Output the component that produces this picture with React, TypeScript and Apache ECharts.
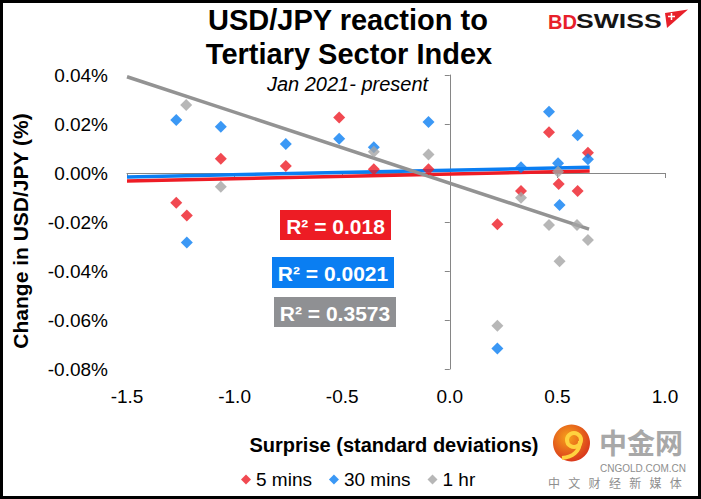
import React, { useEffect, useRef } from 'react';
import * as echarts from 'echarts';

const seriesNames = ['5 mins', '30 mins', '1 hr'];
const seriesColors = ['#EE1C25', '#0A7EF2', '#A5A5A5'];
const trendColors = ['#EE1C25', '#0A7EF2', '#939393'];

// [surprise (sd), change in USD/JPY (%)]
const fiveMins: number[][] = [
  [-1.271, -0.0121], [-1.222, -0.0173], [-1.064, 0.0058], [-0.762, 0.0029], [-0.514, 0.0227],
  [-0.353, 0.0015], [-0.099, 0.0015], [0.221, -0.0209], [0.331, -0.0073], [0.461, 0.0166],
  [0.506, -0.0045], [0.594, -0.0073], [0.642, 0.0083],
];
const thirtyMins: number[][] = [
  [-1.271, 0.0216], [-1.222, -0.0284], [-1.064, 0.0189], [-0.762, 0.0118], [-0.514, 0.014],
  [-0.353, 0.0105], [-0.099, 0.0208], [0.221, -0.0716], [0.331, 0.0023], [0.461, 0.025],
  [0.503, 0.004], [0.51, -0.0131], [0.594, 0.0154], [0.642, 0.0056],
];
const oneHr: number[][] = [
  [-1.225, 0.0278], [-1.064, -0.0056], [-0.353, 0.0087], [-0.099, 0.0076], [0.221, -0.0623],
  [0.331, -0.0101], [0.461, -0.0212], [0.503, 0.0005], [0.51, -0.036], [0.591, -0.0212],
  [0.642, -0.0273],
];

// Excel linear trendline end points
const trend5: number[][] = [[-1.5, -0.0033], [0.65, 0.0008]];
const trend30: number[][] = [[-1.5, -0.0016], [0.65, 0.0023]];
const trend1h: number[][] = [[-1.5, 0.0393], [0.647, -0.0229]];

const rSquared = ['R² = 0.018', 'R² = 0.0021', 'R² = 0.3573'];

const xMin = -1.5, xMax = 1.0, xStep = 0.5;
const yMin = -0.08, yMax = 0.04, yStep = 0.02;

const titleLines = ['USD/JPY reaction to', 'Tertiary Sector Index'];
const subtitle = 'Jan 2021- present';
const xTitle = 'Surprise (standard deviations)';
const yTitle = 'Change in USD/JPY (%)';
const watermarkChars = ['中', '文', '财', '经', '新', '媒', '体'];

const FONT = 'Arial, "Liberation Sans", Helvetica, sans-serif';

export default function App() {
  const ref = useRef<HTMLDivElement>(null);
  useEffect(() => {
    if (!ref.current) return;
    const chart = echarts.init(ref.current, null, { renderer: 'svg' });
    const axisGray = '#868686';
    const series: any[] = [];
    [trend5, trend30, trend1h].forEach((d, i) => {
      series.push({
        name: 'trend' + i, type: 'line', data: d, symbol: 'none', silent: true,
        lineStyle: { color: trendColors[i], width: 3.5 }, z: 2 + i * 0.1,
      });
    });
    [fiveMins, thirtyMins, oneHr].forEach((d, i) => {
      series.push({
        name: seriesNames[i], type: 'scatter', data: d, symbol: 'diamond', symbolSize: 12,
        itemStyle: { color: seriesColors[i] }, z: 3 + i * 0.1,
      });
    });

    const boxes = [
      { x: 280, y: 210, w: 111, h: 30, c: '#ED1C24' },
      { x: 272, y: 257, w: 122, h: 31, c: '#0A7EF2' },
      { x: 274, y: 297, w: 122, h: 30, c: '#8F9093' },
    ];
    const graphics: any[] = [];
    boxes.forEach((b, i) => {
      graphics.push({ type: 'rect', shape: { x: b.x, y: b.y, width: b.w, height: b.h }, style: { fill: b.c }, z: 10 });
      graphics.push({
        type: 'text', x: b.x + b.w / 2, y: b.y + b.h / 2 + 1, z: 11,
        style: { text: rSquared[i], fill: '#fff', fontFamily: FONT, fontWeight: 'bold', fontSize: 21, align: 'center', verticalAlign: 'middle' },
      });
    });
    graphics.push(
      { type: 'text', x: 348, y: 20, style: { text: titleLines[0], fill: '#000', fontFamily: FONT, fontWeight: 'bold', fontSize: 29, align: 'center', verticalAlign: 'middle' } },
      { type: 'text', x: 349, y: 54, style: { text: titleLines[1], fill: '#000', fontFamily: FONT, fontWeight: 'bold', fontSize: 29, align: 'center', verticalAlign: 'middle' } },
      { type: 'text', x: 347.5, y: 84, style: { text: subtitle, fill: '#000', fontFamily: FONT, fontStyle: 'italic', fontSize: 20, align: 'center', verticalAlign: 'middle' } },
      { type: 'text', x: 394, y: 445, style: { text: xTitle, fill: '#000', fontFamily: FONT, fontWeight: 'bold', fontSize: 20, align: 'center', verticalAlign: 'middle' } },
      { type: 'text', x: 20, y: 231, rotation: Math.PI / 2, style: { text: yTitle, fill: '#000', fontFamily: FONT, fontWeight: 'bold', fontSize: 21, align: 'center', verticalAlign: 'middle' } },
      // BDSWISS logo
      { type: 'text', x: 548, y: 21.5, style: { text: 'BD', fill: '#E8202A', fontFamily: FONT, fontWeight: 'bold', fontSize: 20, align: 'left', verticalAlign: 'middle' } },
      { type: 'text', x: 576, y: 21.5, scaleX: 1.33, style: { text: 'SWISS', fill: '#151515', fontFamily: FONT, fontWeight: 'bold', fontSize: 20, align: 'left', verticalAlign: 'middle' } },
      { type: 'polygon', shape: { points: [[665, 13], [688, 9.5], [667, 28]] }, style: { fill: '#E8202A' } },
      { type: 'line', shape: { x1: 668, y1: 16.5, x2: 675, y2: 16.5 }, style: { stroke: '#fff', lineWidth: 1.5 } },
      { type: 'line', shape: { x1: 671.5, y1: 13, x2: 671.5, y2: 20 }, style: { stroke: '#fff', lineWidth: 1.5 } },
      // watermark
      { type: 'circle', shape: { cx: 571.5, cy: 443, r: 18.5 }, z: 20,
        style: { fill: new echarts.graphic.RadialGradient(0.4, 0.35, 0.7, [{ offset: 0, color: '#F7A21B' }, { offset: 1, color: '#D8321C' }]) } },
      { type: 'circle', shape: { cx: 574, cy: 440, r: 7 }, z: 21, style: { fill: 'none', stroke: '#FFD23F', lineWidth: 4 } },
      { type: 'bezierCurve', shape: { x1: 580, y1: 441, x2: 562, y2: 458, cpx1: 580, cpy1: 452, cpx2: 572, cpy2: 457 }, z: 21, style: { stroke: '#FFD23F', lineWidth: 4, fill: 'none' } },
      { type: 'text', x: 641, y: 442, z: 20, style: { text: '中金网', fill: '#A8A8A8', fontFamily: '"Noto Sans CJK SC"', fontWeight: 'bold', fontSize: 28, align: 'center', verticalAlign: 'middle' } },
      { type: 'text', x: 643, y: 468, z: 20, style: { text: 'CNGOLD.COM.CN', fill: '#8E8E8E', fontFamily: FONT, fontSize: 10, align: 'center', verticalAlign: 'middle' } },
      ...watermarkChars.map((ch, i) => ({
        type: 'text', x: 554 + i * 20.3, y: 482, z: 20,
        style: { text: ch, fill: '#8E8E8E', fontFamily: '"Noto Sans CJK SC"', fontSize: 12, align: 'center', verticalAlign: 'middle' },
      })),
      { type: 'rect', shape: { x: 1.5, y: 1.5, width: 698, height: 496 }, z: 30, style: { fill: 'none', stroke: '#000', lineWidth: 3 } },
    );

    const fmtY = (v: number) => (Math.abs(v) < 1e-9 ? 0 : v).toFixed(2) + '%';
    const fmtX = (v: number) => (Math.abs(v) < 1e-9 ? 0 : v).toFixed(1);

    chart.setOption({
      animation: false,
      backgroundColor: '#fff',
      textStyle: { fontFamily: FONT },
      grid: { left: 127, right: 36, top: 75, bottom: 130, outerBoundsMode: 'none' },
      xAxis: [
        { type: 'value', min: xMin, max: xMax, interval: xStep, position: 'bottom',
          axisLine: { show: false, onZero: false }, axisTick: { show: false }, splitLine: { show: false },
          axisLabel: { fontSize: 19, color: '#000', margin: 18, formatter: fmtX } },
        { type: 'value', min: xMin, max: xMax, interval: xStep, position: 'bottom',
          axisLine: { show: true, onZero: true, lineStyle: { color: axisGray, width: 1 } },
          axisTick: { show: true, length: 5, lineStyle: { color: axisGray } },
          axisLabel: { show: false }, splitLine: { show: false } },
      ],
      yAxis: [
        { type: 'value', min: yMin, max: yMax, interval: yStep, position: 'left',
          axisLine: { show: false, onZero: false }, axisTick: { show: false }, splitLine: { show: false },
          axisLabel: { fontSize: 19, color: '#000', margin: 19, formatter: fmtY } },
        { type: 'value', min: yMin, max: yMax, interval: yStep, position: 'left',
          axisLine: { show: true, onZero: true, lineStyle: { color: axisGray, width: 1 } },
          axisTick: { show: true, length: 5, lineStyle: { color: axisGray } },
          axisLabel: { show: false }, splitLine: { show: false } },
      ],
      legend: {
        data: seriesNames, icon: 'diamond', itemWidth: 10, itemHeight: 10, itemGap: 17, padding: 0,
        left: 241, top: 470, textStyle: { fontSize: 19, color: '#000', fontFamily: FONT },
      },
      graphic: graphics,
      series,
    });
    return () => chart.dispose();
  }, []);
  return <div ref={ref} style={{ position: 'fixed', left: 0, top: 0, width: 701, height: 499, background: '#fff' }} />;
}
